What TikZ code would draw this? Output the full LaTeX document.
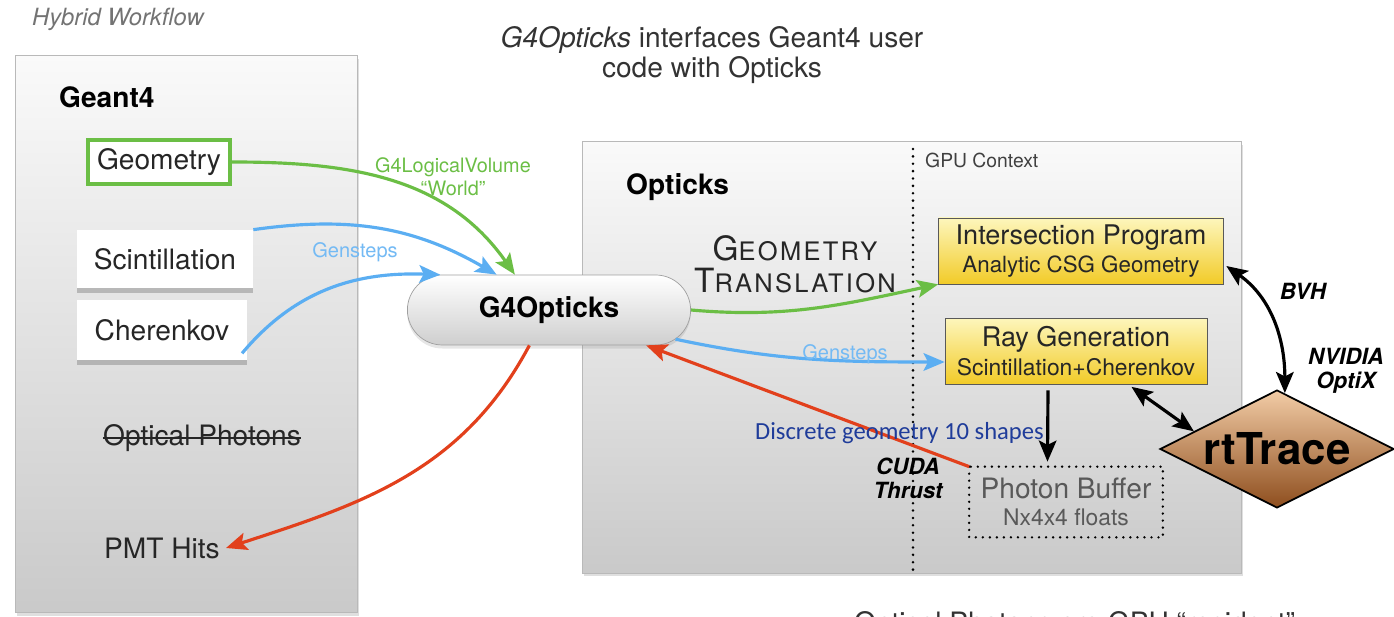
\documentclass[tikz,border=0pt]{standalone}
\usepackage{fontspec}
\setmainfont{TeX Gyre Heros}
\newfontfamily\calibrifont{Carlito}
\newfontfamily\platefont[LetterSpace=9]{TeX Gyre Heros}
\usetikzlibrary{shapes.geometric,shapes.misc,shadows,arrows.meta}

\definecolor{geogreen}{HTML}{6BBE45}
\definecolor{stepblue}{HTML}{5BAEF2}
\definecolor{hitred}{HTML}{E2401C}
\definecolor{noteblue}{HTML}{1F3C9A}
\definecolor{progtop}{HTML}{FDF6BC}
\definecolor{progbot}{HTML}{F2CB28}
\definecolor{tracetop}{HTML}{F2CCA6}
\definecolor{tracebot}{HTML}{8E4E1E}
\definecolor{inkgray}{HTML}{262626}

\newcommand{\fsize}[2]{\fontsize{#1}{#2}\selectfont}
\newcommand{\platecaps}[2]{{\fsize{19}{19}#1}{\fsize{14.5}{19}#2}}

\begin{document}
\begin{tikzpicture}[x=0.02cm, y=-0.02cm, text=inkgray,
    >={Stealth[length=12pt,width=10pt,inset=2.5pt]},
    panel/.style={draw=gray!55, top color=gray!4, bottom color=gray!42,
        drop shadow={opacity=0.25, shadow xshift=1pt, shadow yshift=-2pt}},
    card/.style={fill=white, inner sep=0, font=\fsize{16}{19},
        drop shadow={opacity=0.45, shadow xshift=0pt, shadow yshift=-3pt}},
    progbox/.style={draw=black!65, top color=progtop, bottom color=progbot,
        inner sep=0, align=center, minimum height=1.32cm},
    flow/.style={->, line width=1.8pt},
    dotline/.style={line width=1.6pt, dash pattern=on 0pt off 4.2pt, line cap=round},
    hint/.style={font=\bfseries\itshape\fsize{12.7}{13.5}, align=center, text=black}]

    % frame of the picture
    \useasboundingbox (0,0) rectangle (1394,617);

    % headings
    \node[anchor=west, text=gray!90!black, font=\itshape\fsize{13.5}{16}] (hybrid) at (26,19) {Hybrid Workflow};
    \node[align=center, text=black!80, font=\fsize{16}{17}] (title) at (712,55)
        {\textit{G4Opticks} interfaces Geant4 user\\code with Opticks};

    % Geant4 side
    \node[panel, minimum width=6.84cm, minimum height=11.14cm] (geant4) at (186,334) {};
    \node[anchor=west, font=\bfseries\fsize{16}{19}, text=black] (geant4title) at (53,97) {Geant4};
    \node[draw=geogreen, line width=2.5pt, fill=white, minimum width=2.84cm, minimum height=0.88cm,
        font=\fsize{16}{19}] (geometry) at (159,162) {Geometry};
    \node[card, minimum width=3.52cm, minimum height=1.16cm] (scint) at (165,259) {Scintillation};
    \node[card, minimum width=3.4cm, minimum height=1.2cm] (cheren) at (162,330) {Cherenkov};
    \node[font=\fsize{16}{19}, inner xsep=0] (optphot) at (202,438) {Optical Photons};
    \draw[line width=1pt, inkgray] (optphot.west) -- (optphot.east);
    \node[font=\fsize{16}{19}] (pmthits) at (162,548) {PMT Hits};

    % Opticks side
    \node[panel, minimum width=13.18cm, minimum height=8.64cm] (opticks) at (912,357) {};
    \node[anchor=west, font=\bfseries\fsize{16}{19}, text=black] (optickstitle) at (620,187) {Opticks};
    \coordinate (gputop) at (913,149);
    \coordinate (gpubot) at (913,571);
    \draw[dotline] (gputop) -- (gpubot);
    \node[anchor=west, text=black!75, font=\fsize{11}{13}] (gpuctx) at (919,160) {GPU Context};
    \node[align=center, text=black!85, font=\platefont] (geotrans) at (795,264)
        {\platecaps{G}{EOMETRY}\\[3pt]\platecaps{T}{RANSLATION}};

    \node[progbox, minimum width=5.7cm] (isect) at (1081,251)
        {{\fsize{15.4}{16}Intersection Program}\\[2pt]{\fsize{12.7}{14}Analytic CSG Geometry}};
    \node[progbox, minimum width=5.24cm] (raygen) at (1076,351)
        {{\fsize{15.4}{16}Ray Generation}\\[2pt]{\fsize{13}{14}Scintillation+Cherenkov}};
    \node[align=center, inner sep=0, minimum width=3.86cm, minimum height=1.4cm, text=black!65] (pbuf) at (1066,502)
        {{\fsize{16}{17}Photon Buffer}\\[3pt]{\fsize{13}{14}Nx4x4 floats}};
    \draw[dotline, line width=1.5pt, dash pattern=on 0pt off 4pt] (pbuf.north west) rectangle (pbuf.south east);

    \node[diamond, aspect=2, minimum width=4.68cm, minimum height=2.36cm, inner sep=0, draw=black, line width=1pt,
        top color=tracetop, bottom color=tracebot, font=\bfseries\fsize{25}{28}, text=black] (rt) at (1277,449) {rtTrace};

    % G4Opticks pill
    \node[rounded rectangle, draw=gray!75, top color=white, bottom color=gray!38, minimum width=5.9cm, minimum height=1.4cm,
        font=\bfseries\fsize{16}{19}, text=black,
        drop shadow={opacity=0.2, shadow xshift=0pt, shadow yshift=-2pt}] (g4o) at (549,310) {G4Opticks};

    % connectors
    \draw[flow, geogreen] (geometry.east) to[out=0, in=125] (g4o.134);
    \draw[flow, stepblue] (scint.north east) to[out=8, in=150] (g4o.146);
    \draw[flow, stepblue] ([xshift=-3pt,yshift=4pt]cheren.south east) to[out=50, in=178] (g4o.162);
    \draw[flow, geogreen] (g4o.east) to[out=-5, in=192] (isect.south west);
    \draw[flow, stepblue] (g4o.-13) to[out=-12, in=180] ([yshift=-0.22cm]raygen.west);
    \draw[flow, hitred] (pbuf.north west) -- (g4o.-20);
    \draw[flow, hitred] (g4o.-119) to[out=-118, in=18] (pmthits.east);
    \draw[flow, black] ([xshift=-0.56cm,yshift=-0.12cm]raygen.south) -- ([xshift=-0.37cm,yshift=0.1cm]pbuf.north);
    \draw[<->, line width=1.8pt, black] ([yshift=-0.05cm]raygen.-31) -- (rt.168);
    \draw[<->, line width=1.8pt, black] ([xshift=0.05cm]isect.-6) to[out=-35, in=90] (rt.82);

    % labels
    \node[align=center, text=geogreen, font=\fsize{11.3}{13}] (lvlabel) at (453,177) {G4LogicalVolume\\“World”};
    \node[text=stepblue!85, font=\fsize{11.4}{13}] (gslabel1) at (355,252) {Gensteps};
    \node[text=stepblue!85, font=\fsize{11.4}{13}] (gslabel2) at (845,354) {Gensteps};
    \node[hint] (bvh) at (1303,291) {BVH};
    \node[hint] (optix) at (1346,371) {NVIDIA\\OptiX};
    \node[hint] (cuda) at (908,478) {CUDA\\Thrust};
    \node[anchor=west, text=noteblue, font=\calibrifont\fsize{14}{16}] (discrete) at (749,433) {Discrete geometry 10 shapes};
    \node[anchor=base west, text=black!80, font=\fsize{16}{19}] (resident) at (848,633) {Optical Photons are GPU “resident”};
\end{tikzpicture}
\end{document}
